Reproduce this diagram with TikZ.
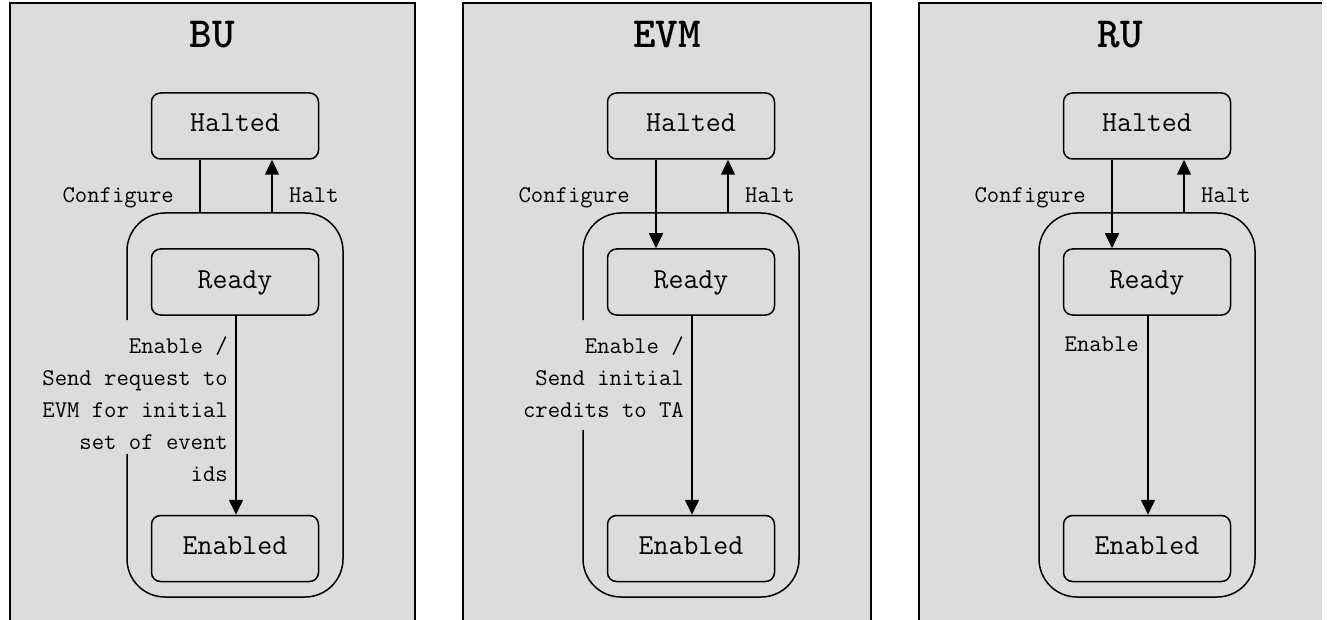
\documentclass[tikz,border=0pt]{standalone}
\usepackage{fontspec}
\usetikzlibrary{arrows.meta}
\definecolor{panelgray}{RGB}{220,220,220}
\tikzset{
  panelfill/.style={fill=panelgray},
  panelline/.style={draw=black, line width=2pt},
  state/.style={draw, line width=1.5pt, rounded corners=9pt, minimum width=167pt,
    minimum height=66pt, inner sep=0pt, font=\ttfamily\fontsize{29}{32}\selectfont,
    text height=17pt, text depth=5pt},
  paneltitle/.style={font=\ttfamily\bfseries\fontsize{43}{48}\selectfont, inner sep=0pt},
  lbl/.style={font=\ttfamily\fontsize{24}{32}\selectfont, inner sep=0pt},
  outerbox/.style={line width=1.5pt, rounded corners=38pt},
  trans/.style={line width=1.5pt, -{Triangle[length=15pt,width=14pt]}},
  plainline/.style={line width=1.5pt},
}
\begin{document}
\begin{tikzpicture}[x=1pt,y=-1pt]
\useasboundingbox (0,0) rectangle (1327,620);
\clip (0,0) rectangle (1327,620);
% panels
\fill[panelfill] (10,3) rectangle (415,640);
\draw[panelline] (10,640) -- (10,3) -- (415,3) -- (415,640);
\fill[panelfill] (463,3) rectangle (871,640);
\draw[panelline] (463,640) -- (463,3) -- (871,3) -- (871,640);
\fill[panelfill] (919,3) rectangle (1322,640);
\draw[panelline] (919,640) -- (919,3) -- (1322,3);
% titles
\node[paneltitle] (bu-title) at (212.5,35) {BU};
\node[paneltitle] (evm-title) at (667,35) {EVM};
\node[paneltitle] (ru-title) at (1120.5,35) {RU};

% ---------------- BU ----------------
\begin{scope}
\node[state] (bu-halted) at (235,126) {Halted};
\node[state] (bu-ready) at (235,282) {Ready};
\node[state] (bu-enabled) at (235,548.5) {Enabled};
\coordinate (bu-cfg) at (200,213);
\coordinate (bu-halt) at (272,213);
\draw[outerbox] (127,320) -- (127,213) -- (343,213) -- (343,597) -- (127,597) -- (127,454);
\draw[plainline] (bu-halted.south -| bu-cfg) -- (bu-cfg);
\draw[trans] (bu-halt) -- (bu-halted.south -| bu-halt);
\draw[trans] ([xshift=1pt]bu-ready.south) -- ([xshift=1pt]bu-enabled.north);
\node[lbl, anchor=base east] (bu-cfglbl) at (174,203) {Configure};
\node[lbl, anchor=base west] (bu-haltlbl) at (289,203) {Halt};
\node[lbl, align=right, anchor=north east] (bu-enlbl) at (228,337)
  {Enable /\\Send request to\\EVM for initial\\set of event\\ids};
\end{scope}

% ---------------- EVM ----------------
\begin{scope}[xshift=456pt]
\node[state] (evm-halted) at (235,126) {Halted};
\node[state] (evm-ready) at (235,282) {Ready};
\node[state] (evm-enabled) at (235,548.5) {Enabled};
\coordinate (evm-cfg) at (200,213);
\coordinate (evm-halt) at (272,213);
\draw[outerbox] (127,320) -- (127,213) -- (343,213) -- (343,597) -- (127,597) -- (127,430);
\draw[trans] (evm-halted.south -| evm-cfg) -- (evm-ready.north -| evm-cfg);
\draw[trans] (evm-halt) -- (evm-halted.south -| evm-halt);
\draw[trans] ([xshift=1pt]evm-ready.south) -- ([xshift=1pt]evm-enabled.north);
\node[lbl, anchor=base east] (evm-cfglbl) at (174,203) {Configure};
\node[lbl, anchor=base west] (evm-haltlbl) at (289,203) {Halt};
\node[lbl, align=right, anchor=north east] (evm-enlbl) at (228,337)
  {Enable /\\Send initial\\credits to TA};
\end{scope}

% ---------------- RU ----------------
\begin{scope}[xshift=912pt]
\node[state] (ru-halted) at (235,126) {Halted};
\node[state] (ru-ready) at (235,282) {Ready};
\node[state] (ru-enabled) at (235,548.5) {Enabled};
\coordinate (ru-cfg) at (200,213);
\coordinate (ru-halt) at (272,213);
\draw[outerbox] (127,213) rectangle (343,597);
\draw[trans] (ru-halted.south -| ru-cfg) -- (ru-ready.north -| ru-cfg);
\draw[trans] (ru-halt) -- (ru-halted.south -| ru-halt);
\draw[trans] ([xshift=1pt]ru-ready.south) -- ([xshift=1pt]ru-enabled.north);
\node[lbl, anchor=base east] (ru-cfglbl) at (174,203) {Configure};
\node[lbl, anchor=base west] (ru-haltlbl) at (289,203) {Halt};
\node[lbl, align=right, anchor=north east] (ru-enlbl) at (227,337) {Enable};
\end{scope}
\end{tikzpicture}
\end{document}
